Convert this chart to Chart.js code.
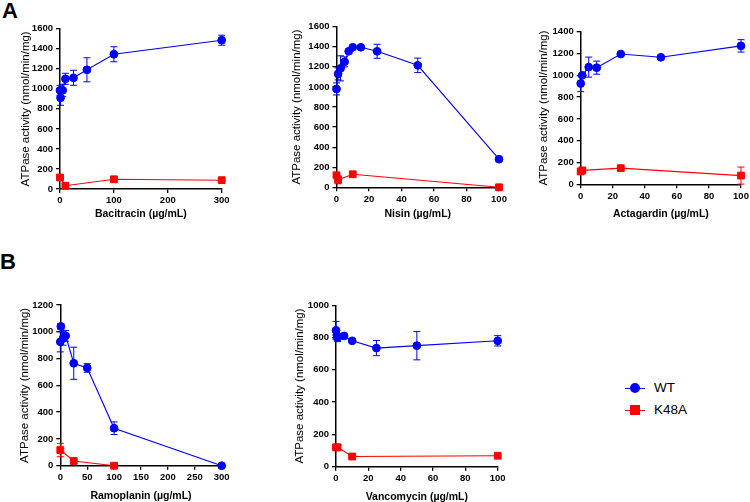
<!DOCTYPE html>
<html>
<head>
<meta charset="utf-8">
<script src="https://cdn.jsdelivr.net/npm/chart.js@4"></script>
<style>
  body { margin: 0; width: 750px; height: 502px; overflow: hidden; background: #fff; position: relative; font-family: "Liberation Sans", Arial, sans-serif; }
  canvas { position: absolute; }
  .letter { position: absolute; font-weight: bold; font-size: 22px; line-height: 22px; }
  .leg { position: absolute; font-size: 13.5px; line-height: 16px; }
  .legLine { position: absolute; height: 1px; }
  .legDot { position: absolute; border-radius: 50%; }
</style>
</head>
<body>
<div class="letter" style="left:2px; top:0px;">A</div>
<div class="letter" style="left:0px; top:251px;">B</div>

<div class="legLine" style="left:625px; top:388px; width:20px; background:#0000ff;"></div>
<div class="legDot" style="left:630px; top:383px; width:10px; height:10px; background:#0000ff;"></div>
<div class="leg" style="left:654px; top:380px;">WT</div>
<div class="legLine" style="left:625px; top:410px; width:20px; background:#ff0000;"></div>
<div class="legDot" style="left:630px; top:405px; width:10px; height:10px; border-radius:0; background:#ff0000;"></div>
<div class="leg" style="left:654px; top:402px;">K48A</div>

<script>
// Serie
const seriesNames = ['WT', 'K48A'];
const yTitle = 'ATPase activity (nmol/min/mg)';

// Bacitracin
const bacX = [0, 1, 5, 10, 25, 50, 100, 300];
const bacWT = [985, 910, 985, 1100, 1110, 1190, 1345, 1485];
const bacWTerr = [50, 75, 60, 55, 75, 120, 75, 50];
const bacXK = [0, 10, 100, 300];
const bacK = [115, 33, 97, 88];
const bacKerr = [15, 20, 10, 10];

// Nisin
const nisX = [0, 1, 2.5, 5, 7.5, 10, 15, 25, 50, 100];
const nisWT = [980, 1130, 1185, 1250, 1355, 1395, 1395, 1355, 1215, 280];
const nisWTerr = [60, 60, 125, 50, 20, 15, 10, 70, 72, 15];
const nisXK = [0, 1, 10, 100];
const nisK = [120, 75, 130, 0];
const nisKerr = [20, 40, 15, 5];

// Actagardin
const actX = [0, 1, 5, 10, 25, 50, 100];
const actWT = [925, 1000, 1075, 1070, 1195, 1165, 1270];
const actWTerr = [75, 20, 92, 60, 10, 10, 57];
const actXK = [0, 1, 25, 100];
const actK = [118, 128, 148, 80];
const actKerr = [15, 10, 10, 78];

// Ramoplanin
const ramX = [0, 1, 5, 10, 25, 50, 100, 300];
const ramWT = [925, 1040, 950, 970, 765, 730, 280, 0];
const ramWTerr = [75, 20, 50, 40, 120, 32, 47, 5];
const ramXK = [0, 25, 100];
const ramK = [117, 35, 0];
const ramKerr = [50, 10, 5];

// Vancomycin
const vanX = [0, 0.5, 1, 5, 10, 25, 50, 100];
const vanWT = [845, 815, 800, 810, 780, 735, 750, 780];
const vanWTerr = [55, 30, 25, 10, 10, 47, 88, 32];
const vanXK = [0, 1, 10, 100];
const vanK = [120, 120, 63, 68];
const vanKerr = [10, 10, 5, 5];

const FONT = '"Liberation Sans", Arial, sans-serif';

// Rysowanie słupków błędów
const errorBars = {
  id: 'errorBars',
  beforeDatasetsDraw(chart) {
    const ctx = chart.ctx;
    const ys = chart.scales.y;
    chart.data.datasets.forEach((ds, i) => {
      if (!ds.errors) return;
      const meta = chart.getDatasetMeta(i);
      ctx.save();
      ctx.strokeStyle = ds.borderColor;
      ctx.lineWidth = 1;
      meta.data.forEach((pt, j) => {
        const e = ds.errors[j];
        if (!e) return;
        const v = ds.data[j].y;
        const top = ys.getPixelForValue(v + e);
        const bot = ys.getPixelForValue(v - e);
        ctx.beginPath();
        ctx.moveTo(pt.x, top); ctx.lineTo(pt.x, bot);
        ctx.moveTo(pt.x - 3.5, top); ctx.lineTo(pt.x + 3.5, top);
        ctx.moveTo(pt.x - 3.5, bot); ctx.lineTo(pt.x + 3.5, bot);
        ctx.stroke();
      });
      ctx.restore();
    });
  }
};

function pts(xs, ys) {
  return xs.map((x, i) => ({ x: x, y: ys[i] }));
}

function makePanel(p) {
  const [pl, pt, pr, pb] = p.plot;
  const cLeft = Math.floor(pl - p.yGap - 7);
  const yW = pl - cLeft;
  const cTop = Math.floor(pt - 10);
  const padT = pt - cTop;
  const xH = p.xGap + 6.3;
  const cW = Math.ceil(pr + 10 - cLeft);
  const padR = cW - yW - (pr - pl);
  const cH = Math.ceil(pb + xH - cTop);
  const padB = cH - padT - (pb - pt) - xH;

  const cv = document.createElement('canvas');
  cv.width = cW; cv.height = cH;
  cv.style.left = cLeft + 'px';
  cv.style.top = cTop + 'px';
  document.body.appendChild(cv);

  const tickFont = { family: FONT, size: 9.5, weight: 'bold' };
  new Chart(cv.getContext('2d'), {
    type: 'line',
    data: {
      datasets: [
        {
          label: seriesNames[1], data: pts(p.xK, p.k), errors: p.kErr,
          borderColor: '#ff0000', backgroundColor: '#ff0000', borderWidth: 1.1,
          pointStyle: 'rect', pointRadius: 4.8, pointBorderWidth: 1, tension: 0
        },
        {
          label: seriesNames[0], data: pts(p.x, p.wt), errors: p.wtErr,
          borderColor: '#0000ff', backgroundColor: '#0000ff', borderWidth: 1.1,
          pointStyle: 'circle', pointRadius: 3.9, pointBorderWidth: 1, tension: 0
        }
      ]
    },
    options: {
      responsive: false, animation: false, devicePixelRatio: 1, clip: false,
      layout: { padding: { left: 0, top: padT, right: padR, bottom: padB } },
      plugins: { legend: { display: false }, tooltip: { enabled: false } },
      scales: {
        x: {
          type: 'linear', min: 0, max: p.xMax,
          ticks: { stepSize: p.xStep, font: tickFont, color: '#000', padding: 2, maxRotation: 0, autoSkip: false, callback: v => String(v) },
          grid: { drawOnChartArea: false, drawTicks: true, tickLength: 4, color: '#000', lineWidth: 1.3 },
          border: { color: '#000', width: 1.5 },
          title: { display: true, text: p.xTitle, color: '#000', padding: 0, font: { family: FONT, size: 10.5, weight: 'bold' } },
          afterFit: s => { s.height = xH; }
        },
        y: {
          min: 0, max: p.yMax,
          ticks: { stepSize: 200, font: tickFont, color: '#000', padding: 3, autoSkip: false, callback: v => String(v) },
          grid: { drawOnChartArea: false, drawTicks: true, tickLength: 4, color: '#000', lineWidth: 1.3 },
          border: { color: '#000', width: 1.5 },
          title: { display: true, text: yTitle, color: '#000', padding: 0, font: { family: FONT, size: 11.5 } },
          afterFit: s => { s.width = yW; }
        }
      }
    },
    plugins: [errorBars]
  });
}

makePanel({ plot: [60, 28.7, 221.7, 189], yGap: 34, xGap: 25, xMax: 300, xStep: 100, yMax: 1600,
  xTitle: 'Bacitracin (µg/mL)', x: bacX, wt: bacWT, wtErr: bacWTerr, xK: bacXK, k: bacK, kErr: bacKerr });
makePanel({ plot: [336.5, 26.7, 499, 187.3], yGap: 39, xGap: 27, xMax: 100, xStep: 20, yMax: 1600,
  xTitle: 'Nisin (µg/mL)', x: nisX, wt: nisWT, wtErr: nisWTerr, xK: nisXK, k: nisK, kErr: nisKerr });
makePanel({ plot: [580.7, 31.7, 741, 184.3], yGap: 36, xGap: 30, xMax: 100, xStep: 20, yMax: 1400,
  xTitle: 'Actagardin (µg/mL)', x: actX, wt: actWT, wtErr: actWTerr, xK: actXK, k: actK, kErr: actKerr });
makePanel({ plot: [60.3, 305, 221.7, 465.7], yGap: 35, xGap: 30, xMax: 300, xStep: 50, yMax: 1200,
  xTitle: 'Ramoplanin (µg/mL)', x: ramX, wt: ramWT, wtErr: ramWTerr, xK: ramXK, k: ramK, kErr: ramKerr });
makePanel({ plot: [336, 305.3, 497.7, 466.7], yGap: 36, xGap: 30, xMax: 100, xStep: 20, yMax: 1000,
  xTitle: 'Vancomycin (µg/mL)', x: vanX, wt: vanWT, wtErr: vanWTerr, xK: vanXK, k: vanK, kErr: vanKerr });
</script>
</body>
</html>
